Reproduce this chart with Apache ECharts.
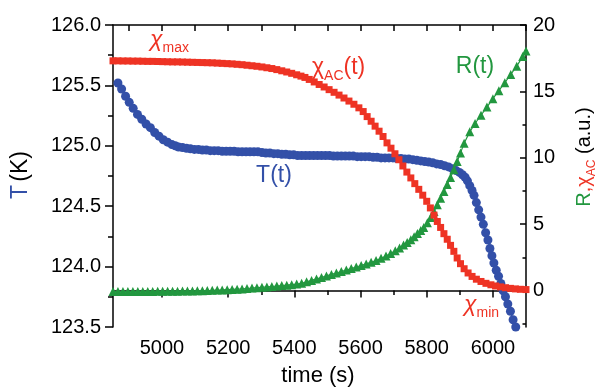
<!DOCTYPE html>
<html>
<head>
<meta charset="utf-8">
<script src="https://cdn.jsdelivr.net/npm/echarts@6/dist/echarts.min.js"></script>
<style>
  html, body { margin: 0; padding: 0; background: #fff; }
  #chart { width: 605px; height: 387px; }
</style>
</head>
<body>
<div id="chart"></div>
<script>
// tick values
const timeTicks = [5000, 5200, 5400, 5600, 5800, 6000];
const timeMinorTicks = [4900, 5100, 5300, 5500, 5700, 5900];
const timeTopTicks = [4900, 5000, 5100, 5200, 5300, 5400, 5500, 5600, 5700, 5800, 5900, 6000, 6100];
const rightTicks = [0, 5, 10, 15, 20];
const rightMinorTicks = [-2.5, 2.5, 7.5, 12.5, 17.5];

// T(t), left axis: [time (s), T (K)]
const tempPoints = [
  [4867, 125.52], [4878, 125.47], [4890, 125.41], [4901, 125.36], [4913, 125.31],
  [4926, 125.26], [4939, 125.22], [4952, 125.18], [4965, 125.15], [4978, 125.11],
  [4991, 125.08], [5004, 125.05], [5017, 125.03], [5030, 125.01], [5040, 125.0],
  [5050, 124.99], [5062, 124.985], [5074, 124.98], [5086, 124.975], [5098, 124.97],
  [5110, 124.97], [5122, 124.965], [5134, 124.965], [5146, 124.96], [5158, 124.96],
  [5170, 124.96], [5182, 124.955], [5194, 124.955], [5206, 124.955], [5218, 124.955],
  [5230, 124.95], [5242, 124.95], [5254, 124.95], [5266, 124.95], [5278, 124.95],
  [5290, 124.95], [5302, 124.945], [5314, 124.94], [5326, 124.94], [5338, 124.935],
  [5350, 124.935], [5362, 124.93], [5374, 124.93], [5386, 124.925], [5398, 124.925],
  [5410, 124.92], [5422, 124.92], [5434, 124.92], [5446, 124.92], [5458, 124.92],
  [5470, 124.92], [5482, 124.92], [5494, 124.92], [5506, 124.92], [5518, 124.915],
  [5530, 124.915], [5542, 124.915], [5554, 124.915], [5566, 124.915], [5578, 124.915],
  [5590, 124.91], [5602, 124.91], [5614, 124.91], [5626, 124.91], [5638, 124.905],
  [5650, 124.905], [5662, 124.90], [5674, 124.90], [5686, 124.90], [5698, 124.90],
  [5710, 124.895], [5722, 124.895], [5734, 124.89], [5746, 124.89], [5758, 124.885],
  [5770, 124.88], [5782, 124.875], [5794, 124.87], [5806, 124.865], [5818, 124.86],
  [5830, 124.85], [5842, 124.845], [5854, 124.835], [5866, 124.825], [5878, 124.81],
  [5889, 124.795], [5899, 124.78], [5908, 124.76], [5916, 124.74], [5923, 124.71],
  [5930, 124.67], [5937, 124.63], [5943, 124.59], [5950, 124.53], [5957, 124.47],
  [5964, 124.41], [5971, 124.35], [5978, 124.28], [5985, 124.22], [5991, 124.15],
  [5997, 124.09], [6003, 124.03], [6010, 123.97], [6017, 123.92], [6024, 123.86],
  [6031, 123.80], [6038, 123.75], [6045, 123.69], [6053, 123.63], [6061, 123.56],
  [6069, 123.50]
];

// chi_AC(t), right axis: [time (s), a.u.]
const chiPoints = [
  [4852, 17.30], [4867, 17.30], [4882, 17.29], [4897, 17.29], [4912, 17.28],
  [4927, 17.28], [4942, 17.27], [4957, 17.26], [4972, 17.26], [4987, 17.25],
  [5002, 17.24], [5017, 17.23], [5032, 17.22], [5047, 17.22], [5062, 17.21],
  [5077, 17.20], [5092, 17.19], [5107, 17.18], [5122, 17.17], [5137, 17.16],
  [5152, 17.15], [5167, 17.13], [5182, 17.11], [5197, 17.09], [5212, 17.07],
  [5227, 17.04], [5242, 17.01], [5257, 16.97], [5272, 16.93], [5287, 16.89],
  [5302, 16.84], [5317, 16.78], [5332, 16.72], [5347, 16.64], [5362, 16.55],
  [5377, 16.46], [5392, 16.36], [5407, 16.25], [5420, 16.15], [5432, 16.05],
  [5445, 15.90], [5460, 15.71], [5475, 15.52], [5490, 15.33], [5505, 15.13],
  [5520, 14.93], [5535, 14.72], [5550, 14.50], [5565, 14.27], [5580, 14.03],
  [5595, 13.76], [5608, 13.48], [5620, 13.10], [5632, 12.75], [5644, 12.38],
  [5656, 12.00], [5668, 11.60], [5680, 11.12], [5692, 10.72], [5704, 10.30],
  [5716, 9.85], [5728, 9.38], [5740, 8.92], [5752, 8.48], [5764, 8.05],
  [5776, 7.62], [5788, 7.18], [5800, 6.72], [5811, 6.22], [5822, 5.68],
  [5832, 5.20], [5842, 4.75], [5852, 4.28], [5862, 3.86], [5872, 3.40],
  [5882, 2.95], [5892, 2.45], [5902, 2.02], [5913, 1.64], [5925, 1.32],
  [5937, 1.06], [5950, 0.85], [5964, 0.68], [5979, 0.54], [5994, 0.43],
  [6008, 0.34], [6023, 0.27], [6038, 0.21], [6053, 0.16], [6068, 0.12],
  [6083, 0.09], [6100, 0.07]
];

// R(t), right axis: [time (s), a.u.]
const resPoints = [
  [4852, -0.08], [4867, -0.08], [4882, -0.08], [4897, -0.08], [4912, -0.08],
  [4927, -0.07], [4942, -0.07], [4957, -0.07], [4972, -0.07], [4987, -0.06],
  [5002, -0.06], [5017, -0.06], [5032, -0.05], [5047, -0.05], [5062, -0.04],
  [5077, -0.04], [5092, -0.03], [5107, -0.02], [5122, -0.01], [5137, 0.00],
  [5152, 0.01], [5167, 0.03], [5182, 0.04], [5197, 0.06], [5212, 0.08],
  [5227, 0.10], [5242, 0.12], [5257, 0.15], [5272, 0.18], [5287, 0.21],
  [5302, 0.24], [5317, 0.27], [5332, 0.30], [5347, 0.33], [5362, 0.37],
  [5377, 0.40], [5392, 0.44], [5407, 0.48], [5422, 0.54], [5437, 0.65],
  [5452, 0.76], [5467, 0.87], [5482, 0.98], [5497, 1.10], [5512, 1.21],
  [5527, 1.32], [5542, 1.43], [5557, 1.54], [5572, 1.65], [5587, 1.77],
  [5602, 1.88], [5617, 2.00], [5632, 2.12], [5647, 2.26], [5662, 2.42],
  [5677, 2.59], [5691, 2.78], [5705, 2.99], [5718, 3.20], [5730, 3.42],
  [5741, 3.62], [5752, 3.82], [5762, 4.05], [5772, 4.30], [5782, 4.52],
  [5791, 4.75], [5802, 5.10], [5812, 5.50], [5822, 5.95], [5832, 6.45],
  [5842, 6.95], [5852, 7.45], [5862, 7.98], [5872, 8.52], [5882, 9.10],
  [5892, 9.72], [5902, 10.35], [5913, 11.10], [5930, 11.95], [5946, 12.58],
  [5964, 13.20], [5982, 13.82], [6000, 14.45], [6018, 15.05], [6036, 15.65],
  [6054, 16.28], [6072, 16.90], [6090, 17.62], [6100, 18.05]
];

const BLUE = '#3350a8';
const RED = '#ee3324';
const GREEN = '#22973f';
const FONT = 'Liberation Sans, Arial, sans-serif';

const chart = echarts.init(document.getElementById('chart'));

const axisLineStyle = { color: '#000', width: 1.5 };
const tickLineStyle = { color: '#000', width: 1.5 };
const labelStyle = { color: '#000', fontSize: 20, fontFamily: FONT };

// main glyph sits at the top of a tall line, subscript at its bottom
const subRich = (color, size, subSize, italic) => ({
  c: { fill: color, fontSize: size, fontFamily: FONT, fontStyle: italic ? 'italic' : 'normal', lineHeight: size + 4, verticalAlign: 'top' },
  s: { fill: color, fontSize: subSize, fontFamily: FONT, lineHeight: 6, verticalAlign: 'bottom' }
});

const option = {
  animation: false,
  backgroundColor: '#fff',
  grid: { left: 113, right: 79, top: 25, bottom: 60 },
  xAxis: [
    {
      type: 'value', min: 4852, max: 6100, position: 'bottom',
      axisLine: { show: true, lineStyle: axisLineStyle },
      axisTick: { show: true, customValues: timeTicks, length: 7, lineStyle: tickLineStyle },
      axisLabel: Object.assign({ customValues: timeTicks, margin: 11, formatter: v => String(v) }, labelStyle),
      splitLine: { show: false }
    },
    {
      type: 'value', min: 4852, max: 6100, position: 'bottom',
      axisLine: { show: false },
      axisTick: { show: true, customValues: timeMinorTicks, length: 4.5, lineStyle: tickLineStyle },
      axisLabel: { show: false },
      splitLine: { show: false }
    },
    {
      type: 'value', min: 4852, max: 6100, position: 'top',
      axisLine: { show: true, lineStyle: axisLineStyle },
      axisTick: { show: true, inside: true, customValues: timeTopTicks, length: 6, lineStyle: tickLineStyle },
      axisLabel: { show: false },
      splitLine: { show: false }
    }
  ],
  yAxis: [
    {
      type: 'value', min: 123.5, max: 126.0, interval: 0.5, position: 'left',
      axisLine: { show: true, lineStyle: axisLineStyle },
      axisTick: { show: true, length: 8, lineStyle: tickLineStyle },
      minorTick: { show: true, splitNumber: 2, length: 5, lineStyle: tickLineStyle },
      axisLabel: Object.assign({ margin: 12, formatter: v => v.toFixed(1) }, labelStyle),
      splitLine: { show: false }
    },
    {
      type: 'value', min: -2.75, max: 20, position: 'right',
      axisLine: { show: true, lineStyle: axisLineStyle },
      axisTick: { show: true, inside: true, customValues: rightTicks, length: 6, lineStyle: tickLineStyle },
      axisLabel: Object.assign({ customValues: rightTicks, margin: 7 }, labelStyle),
      splitLine: { show: false }
    },
    {
      type: 'value', min: -2.75, max: 20, position: 'right',
      axisLine: { show: false },
      axisTick: { show: true, inside: true, customValues: rightMinorTicks, length: 3.5, lineStyle: tickLineStyle },
      axisLabel: { show: false },
      splitLine: { show: false }
    }
  ],
  series: [
    {
      name: 'T(t)', type: 'line', xAxisIndex: 0, yAxisIndex: 0,
      data: tempPoints,
      symbol: 'circle', symbolSize: 9, showAllSymbol: true,
      lineStyle: { color: BLUE, width: 1.5 },
      itemStyle: { color: BLUE },
      z: 2
    },
    {
      name: 'R(t)', type: 'line', xAxisIndex: 0, yAxisIndex: 1,
      data: resPoints,
      symbol: 'triangle', symbolSize: 9, showAllSymbol: true,
      lineStyle: { color: GREEN, width: 1.2 },
      itemStyle: { color: GREEN },
      z: 3
    },
    {
      name: 'chiAC(t)', type: 'scatter', xAxisIndex: 0, yAxisIndex: 1,
      data: chiPoints,
      symbol: 'rect', symbolSize: 7,
      itemStyle: { color: RED, opacity: 1 },
      z: 4
    }
  ],
  graphic: [
    {
      type: 'text', x: 150, y: 28, z: 100,
      style: { text: '{c|χ}{s|max}', align: 'left', verticalAlign: 'top', rich: subRich(RED, 23, 14, true) }
    },
    {
      type: 'text', x: 312, y: 56, z: 100,
      style: {
        text: '{c|χ}{s|AC}{c|(t)}', align: 'left', verticalAlign: 'top',
        rich: subRich(RED, 23, 14, false)
      }
    },
    {
      type: 'text', x: 464, y: 293, z: 100,
      style: { text: '{c|χ}{s|min}', align: 'left', verticalAlign: 'top', rich: subRich(RED, 23, 14, true) }
    },
    {
      type: 'text', x: 475, y: 67, z: 100,
      style: { text: 'R(t)', fill: GREEN, fontSize: 23, fontFamily: FONT, align: 'center', verticalAlign: 'middle' }
    },
    {
      type: 'text', x: 274, y: 176, z: 100,
      style: { text: 'T(t)', fill: BLUE, fontSize: 23, fontFamily: FONT, align: 'center', verticalAlign: 'middle' }
    },
    {
      type: 'text', x: 318, y: 376, z: 100,
      style: { text: 'time (s)', fill: '#000', fontSize: 22, fontFamily: FONT, align: 'center', verticalAlign: 'middle' }
    },
    {
      type: 'text', x: 21, y: 175, rotation: Math.PI / 2, z: 100,
      style: {
        text: '{b|T} {k|(K)}', align: 'center', verticalAlign: 'middle',
        rich: {
          b: { fill: BLUE, fontSize: 23, fontFamily: FONT },
          k: { fill: '#000', fontSize: 23, fontFamily: FONT }
        }
      }
    },
    {
      type: 'text', x: 586, y: 157, rotation: Math.PI / 2, z: 100,
      style: {
        text: '{g|R}{c|,χ}{s|AC}{k| (a.u.)}', align: 'center', verticalAlign: 'middle',
        rich: Object.assign(subRich(RED, 20, 12, false), {
          g: { fill: GREEN, fontSize: 20, fontFamily: FONT, lineHeight: 24, verticalAlign: 'top' },
          k: { fill: '#000', fontSize: 20, fontFamily: FONT, lineHeight: 24, verticalAlign: 'top' }
        })
      }
    }
  ]
};

chart.setOption(option);
</script>
</body>
</html>
